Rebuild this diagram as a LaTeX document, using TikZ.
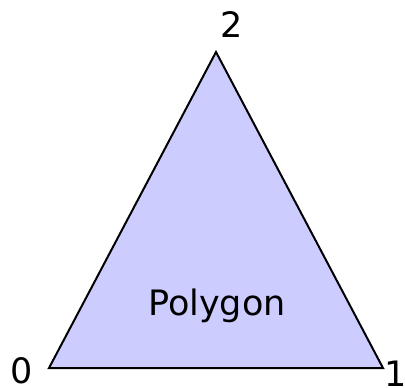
\documentclass[tikz,border=0pt]{standalone}
\usepackage{fontspec}
\setmainfont{DejaVu Sans}
\definecolor{polyfill}{RGB}{204,204,255}
\tikzset{
  vlabel/.style={font=\fontsize{35}{40}\selectfont,inner sep=0pt},
}
\begin{document}
\begin{tikzpicture}[x=1pt,y=-1pt,line join=miter]
\useasboundingbox (0,0) rectangle (405,388);
\coordinate (v0) at (49,368);
\coordinate (v1) at (383,368);
\coordinate (v2) at (216,52);
\filldraw[fill=polyfill,draw=black,line width=2pt] (v0) -- (v1) -- (v2) -- cycle;
\node[vlabel] (l0) at (22,371) {0};
\node[vlabel] (l1) at (396,374) {1};
\node[vlabel] (l2) at (232,25) {2};
\node[vlabel] (name) at (217,306) {Polygon};
\end{tikzpicture}
\end{document}
